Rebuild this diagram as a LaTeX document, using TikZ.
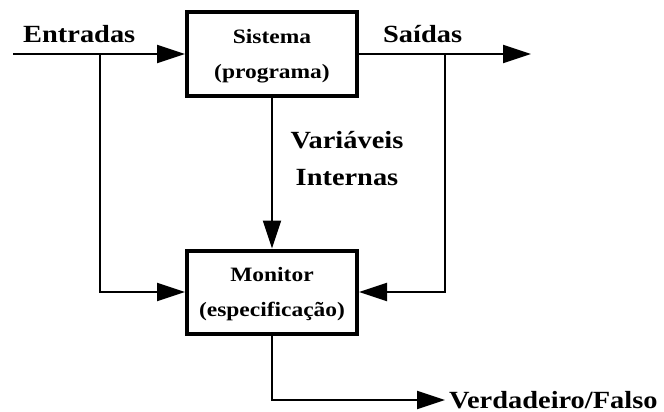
\documentclass[tikz,border=0pt]{standalone}
\usepackage{fontspec}
\newfontfamily\diagfont{Liberation Serif}[FakeStretch=1.15]
\usetikzlibrary{arrows.meta,positioning}
\tikzset{>={Triangle[length=28pt,width=18pt]}}

\begin{document}
\begin{tikzpicture}[x=1pt, y=-1pt,
  block/.style={draw, line width=4pt, minimum width=170pt, minimum height=83pt,
    align=center, inner sep=0pt, font=\diagfont\bfseries\fontsize{20.4}{35}\selectfont},
  flow/.style={line width=2pt},
  tag/.style={inner sep=0pt, align=center, font=\diagfont\bfseries\fontsize{24.7}{37}\selectfont}]
  \useasboundingbox (0,0) rectangle (664,412);

  % --- 1. Blocks ---
  \node[block] (sis) at (272,54) {\rule{0pt}{18pt}Sistema\\(programa)};
  \node[block] (mon) at (272,292) {\rule{0pt}{18pt}Monitor\\(especificação)};

  % --- 2. Line ends and taps ---
  \coordinate (in) at (13,54);
  \coordinate (out) at (531,54);
  \coordinate (tapin) at (100,54);   % branch of the inputs
  \coordinate (tapout) at (445,54);  % branch of the outputs
  \coordinate (bend) at (272,400);
  \coordinate (res) at (445,400);

  % --- 3. Connectors ---
  \draw[flow,->] (in) -- (sis);
  \draw[flow,->] (sis) -- (out);
  \draw[flow,->] (sis) -- (mon);
  \draw[flow,->] (tapin) |- (mon);
  \draw[flow,->] (tapout) |- (mon);
  \draw[flow,->] (mon) -- (bend) -- (res);

  % --- 4. Labels ---
  \node[tag, anchor=base west] (entr) at (23,43) {Entradas};
  \node[tag, anchor=base west] (sai) at (383,43) {Saídas};
  \node[tag, anchor=base] (var) at (347,185) {Variáveis\\Internas};
  \node[tag, right=4pt of res] (vf) {Verdadeiro/Falso};
\end{tikzpicture}
\end{document}
